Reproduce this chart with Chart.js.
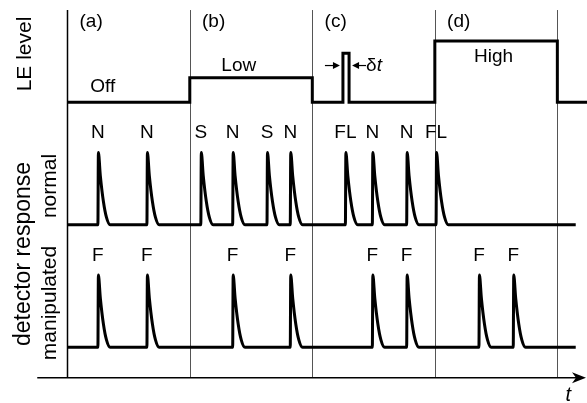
<!DOCTYPE html>
<html>
<head>
<meta charset="utf-8">
<script src="https://cdn.jsdelivr.net/npm/chart.js@4/dist/chart.umd.min.js"></script>
<style>
  html, body { margin: 0; padding: 0; background: #fff; }
</style>
</head>
<body>
<canvas id="chart" width="587" height="403"></canvas>
<script>
// time axis: one unit per section (a)-(d)
const sectionEdges = [0, 1, 2, 3, 4];
const sectionLabels = ["(a)", "(b)", "(c)", "(d)"];

// LE level trace (stepped): change times and new level
const leTimes = [0, 1, 2, 2.25, 2.30, 3, 4, 4.25];
const leLevels = [0, 0.2, 0, 0.4, 0, 0.5, 0, 0];
const leTexts = ["Off", "Low", "High"];
const leTextX = [0.29, 1.40, 3.48];
const leTextY = [0.125, 0.30, 0.37];

// detector response, normal
const normalPeaks = [0.25, 0.65, 1.09, 1.35, 1.63, 1.82, 2.27, 2.49, 2.77, 3.01];
const normalLabels = ["N", "N", "S", "N", "S", "N", "FL", "N", "N", "FL"];

// detector response, manipulated
const manipPeaks = [0.25, 0.65, 1.35, 1.82, 2.49, 2.77, 3.36, 3.64];
const manipLabels = ["F", "F", "F", "F", "F", "F", "F", "F"];

// one pulse (time after onset, height)
const pulseDt = [0, 0.004, 0.02, 0.045, 0.07, 0.10];
const pulseH = [0, 0.59, 0.40, 0.19, 0.06, 0];

const traceEnd = 4.15;
const laneBase = { le: 2, normal: 1, manip: 0 };

function pulseTrain(peaks, base) {
  const pts = [{ x: 0, y: base }];
  peaks.forEach(t => {
    pulseDt.forEach((d, i) => pts.push({ x: t + d, y: base + pulseH[i] }));
  });
  pts.push({ x: traceEnd, y: base });
  return pts;
}

const lePoints = leTimes.map((t, i) => ({ x: t, y: laneBase.le + leLevels[i] }));

const FONT = '"Liberation Sans", Arial, sans-serif';

const diagram = {
  id: "diagram",
  beforeDatasetsDraw(chart) {
    const { ctx, scales: { x, y } } = chart;
    const top = y.getPixelForValue(2.753);
    const axisY = y.getPixelForValue(-0.248);
    ctx.save();
    sectionEdges.forEach((e, i) => {
      const px = Math.round(x.getPixelForValue(e)) + 0.5;
      ctx.strokeStyle = i === 0 ? "#000" : "#555";
      ctx.lineWidth = i === 0 ? 1.5 : 1;
      ctx.beginPath();
      ctx.moveTo(px, top);
      ctx.lineTo(px, axisY);
      ctx.stroke();
    });
    // time axis with arrow
    const x0 = x.getPixelForValue(-0.245);
    const x1 = chart.width - 1;
    ctx.strokeStyle = "#000";
    ctx.lineWidth = 1.5;
    ctx.beginPath();
    ctx.moveTo(x0, axisY);
    ctx.lineTo(x1 - 8, axisY);
    ctx.stroke();
    ctx.fillStyle = "#000";
    ctx.beginPath();
    ctx.moveTo(x1, axisY);
    ctx.lineTo(x1 - 14, axisY - 5.5);
    ctx.lineTo(x1 - 10, axisY);
    ctx.lineTo(x1 - 14, axisY + 5.5);
    ctx.closePath();
    ctx.fill();
    ctx.restore();
  },
  afterDatasetsDraw(chart) {
    const { ctx, scales: { x, y } } = chart;
    ctx.save();
    ctx.fillStyle = "#000";
    ctx.font = "19px " + FONT;
    ctx.textBaseline = "middle";

    ctx.textAlign = "left";
    sectionLabels.forEach((s, i) => {
      ctx.fillText(s, x.getPixelForValue(sectionEdges[i] + 0.1), y.getPixelForValue(2.66));
    });

    ctx.textAlign = "center";
    leTexts.forEach((s, i) => {
      ctx.fillText(s, x.getPixelForValue(leTextX[i]), y.getPixelForValue(laneBase.le + leTextY[i]));
    });
    normalPeaks.forEach((t, i) => {
      ctx.fillText(normalLabels[i], x.getPixelForValue(t), y.getPixelForValue(laneBase.normal + 0.75));
    });
    manipPeaks.forEach((t, i) => {
      ctx.fillText(manipLabels[i], x.getPixelForValue(t), y.getPixelForValue(laneBase.manip + 0.75));
    });

    // delta t marker around the short pulse
    const ay = y.getPixelForValue(laneBase.le + 0.30);
    const pl = x.getPixelForValue(leTimes[3]);
    const pr = x.getPixelForValue(leTimes[4]);
    ctx.lineWidth = 1.2;
    ctx.strokeStyle = "#000";
    function arrow(from, to) {
      const dir = Math.sign(to - from);
      ctx.beginPath();
      ctx.moveTo(from, ay);
      ctx.lineTo(to - dir * 5, ay);
      ctx.stroke();
      ctx.beginPath();
      ctx.moveTo(to, ay);
      ctx.lineTo(to - dir * 7, ay - 3.5);
      ctx.lineTo(to - dir * 7, ay + 3.5);
      ctx.closePath();
      ctx.fill();
    }
    arrow(pl - 18, pl - 3);
    arrow(pr + 17, pr + 3);
    ctx.textAlign = "left";
    ctx.fillText("\u03b4", pr + 17, ay);
    const dw = ctx.measureText("\u03b4").width;
    ctx.font = "italic 19px " + FONT;
    ctx.fillText("t", pr + 17 + dw, ay);

    // t on the time axis
    ctx.textAlign = "center";
    ctx.font = "italic 20px " + FONT;
    ctx.fillText("t", x.getPixelForValue(4.09), y.getPixelForValue(-0.39));

    // rotated axis titles
    function vtext(s, px, py) {
      ctx.save();
      ctx.translate(px, py);
      ctx.rotate(-Math.PI / 2);
      ctx.fillText(s, 0, 0);
      ctx.restore();
    }
    ctx.font = "21px " + FONT;
    vtext("LE level", 25, 54);
    vtext("normal", 50, 186);
    vtext("manipulated", 50, 303);
    ctx.font = "23px " + FONT;
    vtext("detector response", 24, 254);
    ctx.restore();
  }
};

const lineStyle = {
  borderColor: "#000",
  borderWidth: 3,
  pointRadius: 0,
  fill: false,
  showLine: true,
  borderJoinStyle: "round"
};

new Chart(document.getElementById("chart"), {
  type: "scatter",
  data: {
    datasets: [
      Object.assign({ label: "LE level", data: lePoints, stepped: "before" }, lineStyle, { borderJoinStyle: "miter" }),
      Object.assign({ label: "normal", data: pulseTrain(normalPeaks, laneBase.normal), cubicInterpolationMode: "monotone" }, lineStyle),
      Object.assign({ label: "manipulated", data: pulseTrain(manipPeaks, laneBase.manip), cubicInterpolationMode: "monotone" }, lineStyle)
    ]
  },
  options: {
    responsive: false,
    animation: false,
    layout: { padding: 0 },
    plugins: {
      legend: { display: false },
      tooltip: { enabled: false }
    },
    scales: {
      x: { type: "linear", min: -0.549, max: 4.242, display: false },
      y: { type: "linear", min: -0.455, max: 2.835, display: false }
    }
  },
  plugins: [diagram]
});
</script>
</body>
</html>
